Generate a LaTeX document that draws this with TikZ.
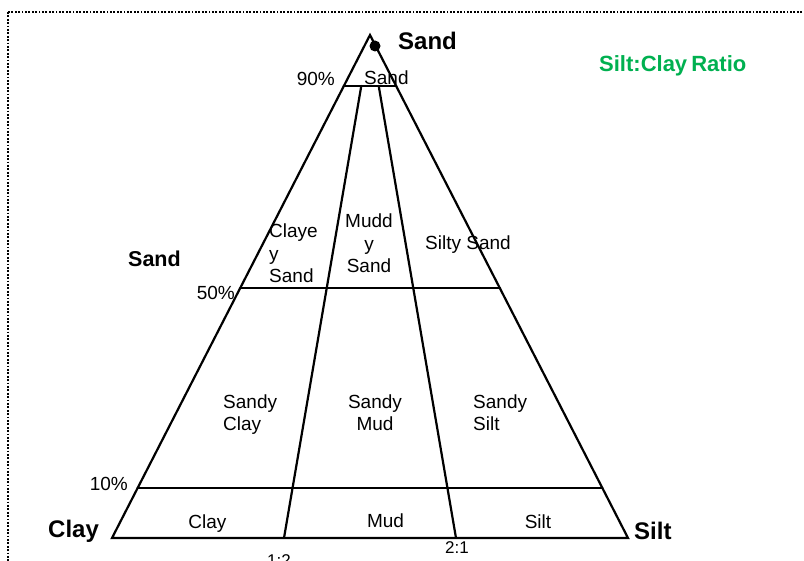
\documentclass[tikz,border=0pt]{standalone}
\usepackage{fontspec}
\setmainfont{Liberation Sans}
\usetikzlibrary{calc}
\definecolor{ratiogreen}{RGB}{0,176,80}
\begin{document}
\begin{tikzpicture}[x=1pt,y=-1pt,
  edge/.style={line width=2.2pt, line join=miter, line cap=round},
  band/.style={line width=2.6pt, line cap=round},
  lbl/.style={inner sep=0pt, font=\fontsize{19}{22.5}\selectfont},
  small/.style={inner sep=0pt, font=\fontsize{17}{20}\selectfont},
  big/.style={inner sep=0pt, font=\fontsize{24}{28}\selectfont\bfseries},
  frame/.style={line width=1.8pt, dash pattern=on 1.8pt off 1.6pt},
]
\useasboundingbox (0,0) rectangle (804,561);
\clip (0,0) rectangle (804,561);
\draw[frame] (8,12) rectangle (830,590);

% corners
\coordinate (A) at (370,35);
\coordinate (B) at (112,538);
\coordinate (C) at (628,538);
\coordinate (q1) at (284,538);
\coordinate (q2) at (456,538);
% horizontal lines
\coordinate (l90) at ($(A)!0.1014!(B)$);
\coordinate (r90) at ($(A)!0.1014!(C)$);
\coordinate (l50) at ($(A)!0.503!(B)$);
\coordinate (r50) at ($(A)!0.503!(C)$);
\coordinate (l10) at ($(A)!0.9006!(B)$);
\coordinate (r10) at ($(A)!0.9006!(C)$);
\coordinate (t1) at ($(A)!0.1014!(q1)$);
\coordinate (t2) at ($(A)!0.1014!(q2)$);

\draw[edge] (B) -- (A) -- (C) -- cycle;
\draw[band] (l90) -- (r90);
\draw[band] (l50) -- (r50);
\draw[band] (l10) -- (r10);
\draw[edge] (t1) -- (q1);
\draw[edge] (t2) -- (q2);

\fill (375,46) circle (5.5);

% corner labels
\node[big, anchor=base west] (sandtop) at (398,50) {Sand};
\node[big, anchor=base west] (claycorner) at (48,537) {Clay};
\node[big, anchor=base west] (siltcorner) at (634,539) {Silt};
\node[inner sep=0pt, font=\fontsize{21.5}{25}\selectfont\bfseries, anchor=base west] (sandleft) at (128,267) {Sand};
\node[inner sep=0pt, font=\fontsize{22}{26}\selectfont\bfseries, text=ratiogreen, anchor=base west] (ratio) at (599,72) {Silt:Clay\hspace{-2pt} Ratio};

% percent labels
\node[lbl, anchor=base east] (p90) at (335,86) {90\%};
\node[lbl, anchor=base east] (p50) at (235,300) {50\%};
\node[lbl, anchor=base east] (p10) at (128,490) {10\%};

% ratio labels
\node[small, anchor=base west] (r12) at (267,566) {1:2};
\node[small, anchor=base west] (r21) at (445,553) {2:1};

% field labels
\node[lbl, anchor=base west] (fsand) at (364,85) {Sand};
\node[lbl, anchor=base west, align=left] (fclayeysand) at (269,283) {Claye\\y\\Sand};
\node[lbl, anchor=base, align=center] (fmuddysand) at (369,273) {Mudd\\y\\Sand};
\node[lbl, anchor=base] (fsiltysand) at (468,250) {Silty Sand};
\node[lbl, anchor=base west, align=left] (fsandyclay) at (223,431) {Sandy\\Clay};
\node[lbl, anchor=base, align=center] (fsandymud) at (375,431) {Sandy\\Mud};
\node[lbl, anchor=base west, align=left] (fsandysilt) at (473,431) {Sandy\\Silt};
\node[lbl, anchor=base] (fclay) at (207.5,528) {Clay};
\node[lbl, anchor=base] (fmud) at (385.5,527) {Mud};
\node[lbl, anchor=base] (fsilt) at (538,528) {Silt};
\end{tikzpicture}
\end{document}
